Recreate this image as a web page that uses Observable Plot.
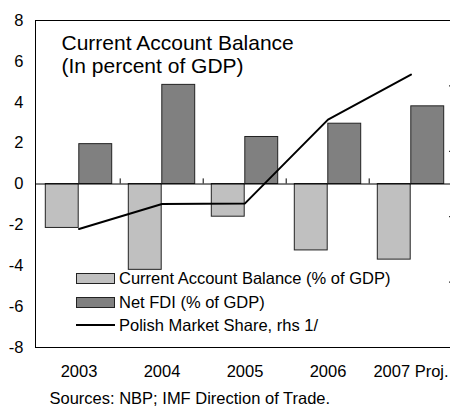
<!DOCTYPE html>
<html>
<head>
<meta charset="utf-8">
<script src="https://cdn.jsdelivr.net/npm/d3@7"></script>
<script src="https://cdn.jsdelivr.net/npm/@observablehq/plot@0.6"></script>
<style>
  html, body { margin: 0; padding: 0; background: #fff; }
  body { width: 450px; height: 407px; overflow: hidden; font-family: "Liberation Sans", Arial, sans-serif; }
</style>
</head>
<body>
<div id="chart"></div>
<script>
// ---- data ----
const years = ["2003", "2004", "2005", "2006", "2007 Proj."];
const currentAccount = [-2.15, -4.2, -1.6, -3.25, -3.7];
const netFDI = [1.95, 4.85, 2.3, 2.95, 3.8];
// Polish market share (rhs) in left-axis units
const marketShare = [-2.2, -0.98, -0.95, 3.15, 5.35];
const yTicks = [-8, -6, -4, -2, 0, 2, 4, 6, 8];
const rhsTicks = [-4.8, -1.6, 1.6, 4.8];
const titleText = "Current Account Balance\n(In percent of GDP)";
const legendLabels = ["Current Account Balance (% of GDP)", "Net FDI (% of GDP)", "Polish Market Share, rhs 1/"];
const captionText = "Sources: NBP; IMF Direction of Trade.";

// ---- styles ----
const W = 450, H = 407;
const mL = 35, mR = -3, mT = 20, mB = 60;
const frameW = W - mL - mR;
const band = frameW / years.length;
const outerInset = 8.3;
const lightFill = "#c0c0c0", darkFill = "#808080";
const font = "'Liberation Sans', Arial, sans-serif";

const caRows = years.map((y, i) => ({year: y, value: currentAccount[i]}));
const fdiRows = years.map((y, i) => ({year: y, value: netFDI[i]}));
const lineRows = years.map((y, i) => ({year: y, value: marketShare[i]}));

function legendMark(index, scales, values, dims) {
  const g = d3.create("svg:g").attr("font-family", font).attr("font-size", 16.5)
    .attr("text-anchor", "start").attr("fill", "#000");
  const x0 = dims.marginLeft + 41, sw = 39, tx = dims.marginLeft + 84;
  const rowY = [dims.marginTop + 253, dims.marginTop + 277, dims.marginTop + 305];
  const fills = [lightFill, darkFill];
  legendLabels.forEach((label, i) => {
    if (i < 2) {
      g.append("rect").attr("x", x0 + 0.5).attr("y", rowY[i] + 0.5).attr("width", sw - 1).attr("height", 10)
        .attr("fill", fills[i]).attr("stroke", "#222").attr("stroke-width", 1);
    } else {
      g.append("line").attr("x1", x0).attr("x2", x0 + sw).attr("y1", rowY[i]).attr("y2", rowY[i])
        .attr("stroke", "#000").attr("stroke-width", 2);
    }
    g.append("text").attr("x", tx).attr("y", i < 2 ? rowY[i] + 11 : rowY[i] + 6)
      .attr("text-anchor", "start").text(label);
  });
  return g.node();
}

const plot = Plot.plot({
  width: W,
  height: H,
  marginLeft: mL,
  marginRight: mR,
  marginTop: mT,
  marginBottom: mB,
  style: {fontFamily: font, fontSize: "16.5px", color: "#000", background: "#fff", overflow: "visible"},
  x: {type: "band", domain: years, padding: 0},
  y: {domain: [-8, 8]},
  marks: [
    Plot.barY(caRows, {x: "year", y: "value", fill: lightFill, stroke: "#222", strokeWidth: 1,
      insetLeft: outerInset, insetRight: band / 2}),
    Plot.barY(fdiRows, {x: "year", y: "value", fill: darkFill, stroke: "#222", strokeWidth: 1,
      insetLeft: band / 2, insetRight: outerInset}),
    Plot.ruleY([0], {stroke: "#000", strokeWidth: 1}),
    Plot.ruleX(years.slice(1), {x: d => d, y1: 0, y2: 0.25, dx: -band / 2, stroke: "#000", strokeWidth: 1}),
    Plot.ruleY(rhsTicks, {y: d => d, insetLeft: frameW - 4, stroke: "#000", strokeWidth: 1}),
    Plot.line(lineRows, {x: "year", y: "value", stroke: "#000", strokeWidth: 2}),
    Plot.text([titleText], {frameAnchor: "top-left", text: d => d, dx: 26, dy: 13, lineAnchor: "top",
      textAnchor: "start", fontSize: 21, lineHeight: 1.1, fill: "#000"}),
    legendMark,
    Plot.frame({stroke: "#000", strokeWidth: 1}),
    Plot.axisY(yTicks, {anchor: "left", tickSize: 0, tickPadding: 12, tickFormat: d => String(d), fontSize: 16.5, label: null}),
    Plot.axisX(years, {anchor: "bottom", tickSize: 0, tickPadding: 18, fontSize: 16.5, label: null}),
    Plot.text([captionText], {frameAnchor: "bottom-left", text: d => d, dx: 14, dy: 51.5, lineAnchor: "middle",
      textAnchor: "start", fontSize: 16.5, fill: "#000"})
  ]
});
document.getElementById("chart").appendChild(plot);
</script>
</body>
</html>
